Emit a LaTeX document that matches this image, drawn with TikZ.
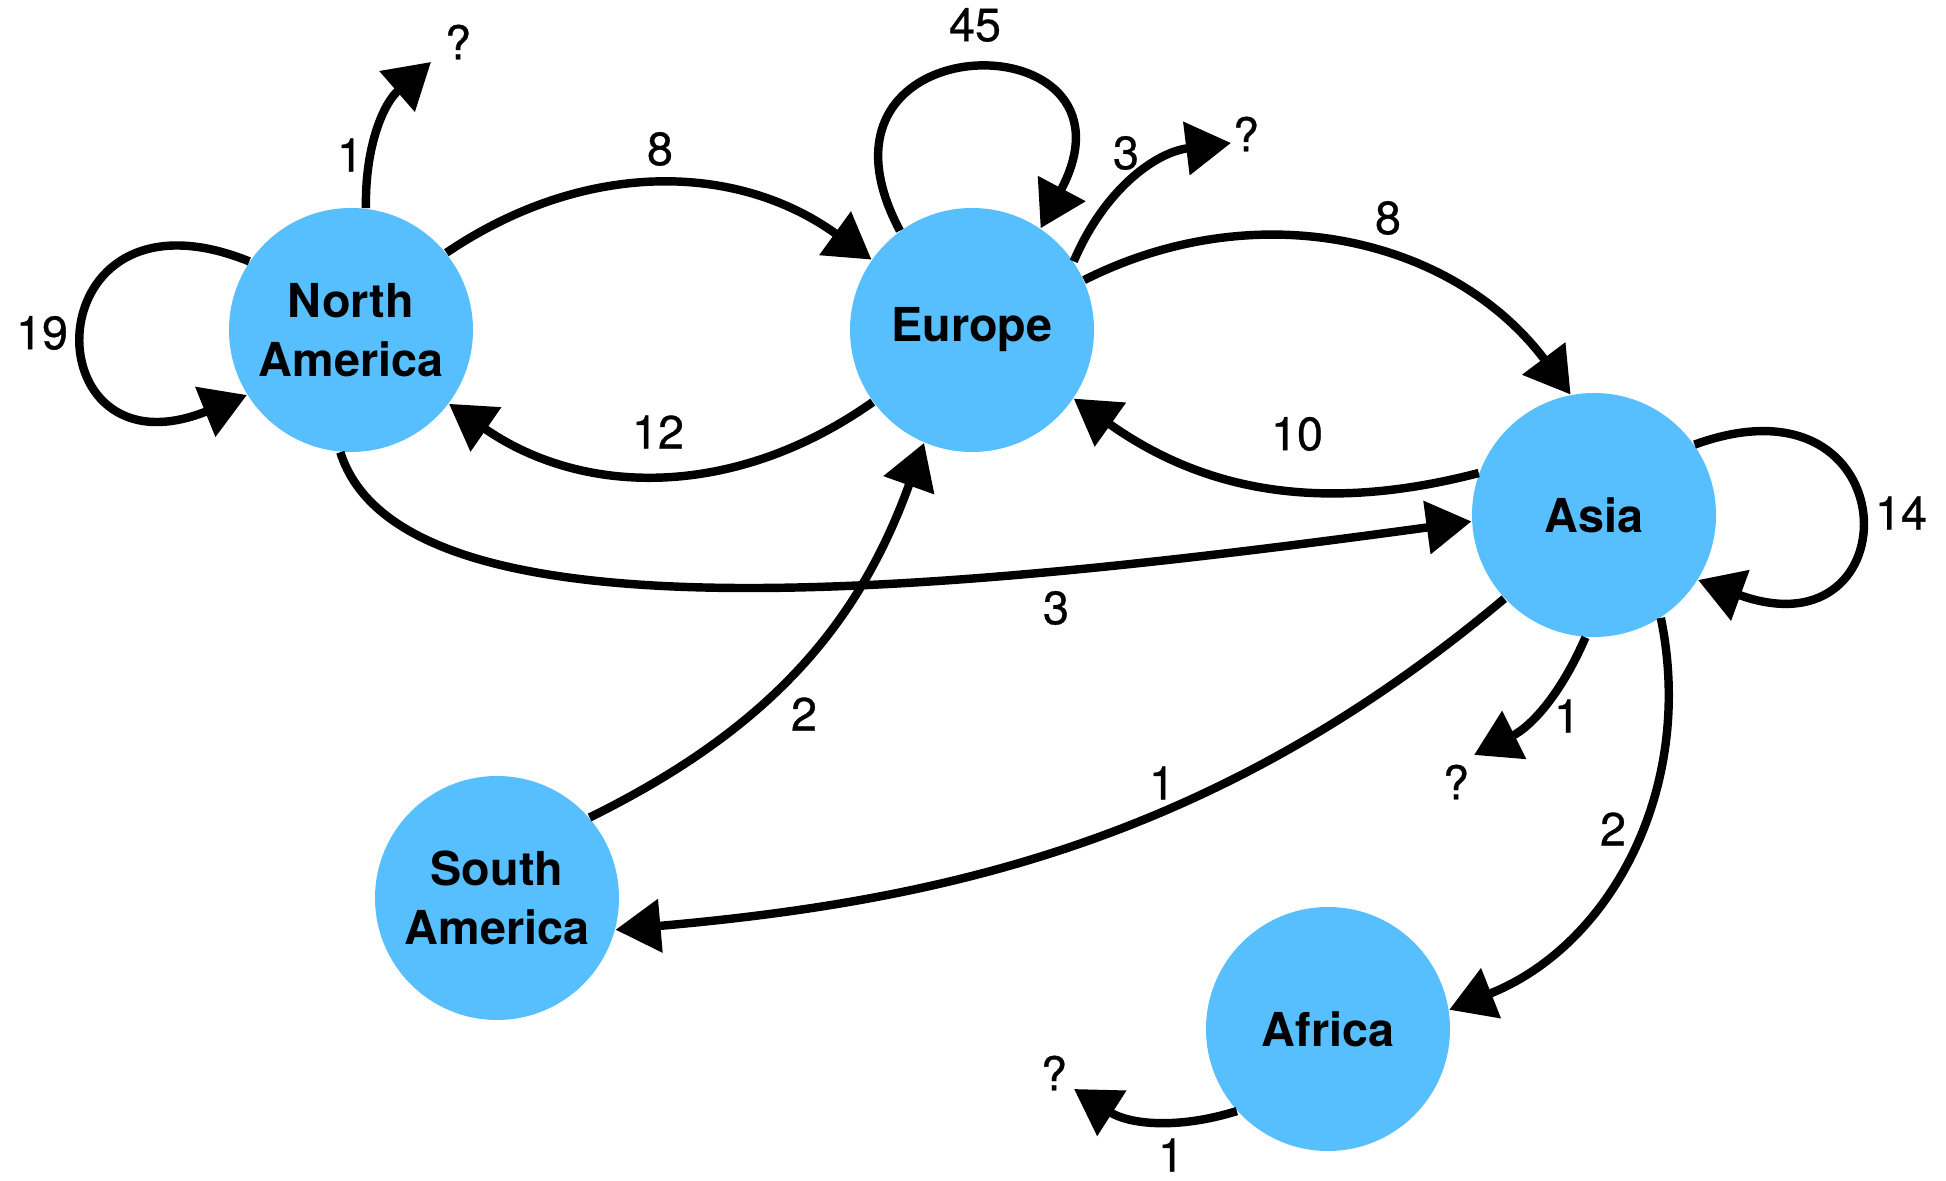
\documentclass[tikz,border=0pt]{standalone}
\usepackage{fontspec}
\setmainfont{TeX Gyre Heros}
\newfontfamily\mediumfont[FakeBold=0.6]{TeX Gyre Heros}
\usetikzlibrary{arrows.meta}
\definecolor{skyblue}{RGB}{87,191,253}

\begin{document}
\begin{tikzpicture}[x=1cm, y=1cm, >={Triangle[length=4.5mm,width=5.2mm]},
    continent/.style={circle, fill=skyblue, minimum size=2.44cm, inner sep=0pt,
      align=center, font=\fontsize{13.3}{16.8}\selectfont\bfseries},
    weight/.style={font=\fontsize{13.3}{16}\selectfont\mediumfont},
    flow/.style={->, line width=2.4pt, black}]
      \useasboundingbox (0,0) rectangle (19.46,11.81);

      % continents
      \node [continent] (na) at (3.51,8.51)  {North\\America};
      \node [continent] (eu) at (9.72,8.51)  {Europe};
      \node [continent] (as) at (15.94,6.66) {Asia};
      \node [continent] (sa) at (4.97,2.83)  {South\\America};
      \node [continent] (af) at (13.28,1.52) {Africa};

      % unknown destinations
      \node [weight] (q1) at (4.58,11.39) {?};
      \node [weight] (q2) at (12.46,10.47) {?};
      \node [weight] (q3) at (14.56,3.99) {?};
      \node [weight] (q4) at (10.54,1.08) {?};
      \coordinate (t1) at (4.31,11.19);
      \coordinate (t2) at (12.31,10.38);
      \coordinate (t3) at (14.74,4.26);
      \coordinate (t4) at (10.74,0.92);

      % North America
      \draw [flow] (na.83) to[bend left=25] (t1);
      \draw [flow] (na.146) .. controls +(158:2.35) and +(202:2.35) .. (na.212);
      \draw [flow] (na.39) to[bend left=35] (eu.145);
      \draw [flow] (na.265) .. controls +(0.6,-1.9) and +(-5.64,-0.77) .. (as.183);
      \node [weight] (w1)  at (3.50,10.26) {1};
      \node [weight] (w19) at (0.42,8.48)  {19};
      \node [weight] (w8a) at (6.60,10.32) {8};
      \node [weight] (w3a) at (10.56,5.73) {3};

      % Europe
      \draw [flow] (eu.216) to[bend left=35] (na.-37);
      \draw [flow] (eu.126) .. controls +(118:2.4) and +(62:2.4) .. (eu.56);
      \draw [flow] (eu.34) to[bend left=30] (t2);
      \draw [flow] (eu.24) to[bend left=40] (as.101);
      \node [weight] (w12) at (6.58,7.49)  {12};
      \node [weight] (w45) at (9.75,11.56) {45};
      \node [weight] (w3b) at (11.26,10.28) {3};
      \node [weight] (w8b) at (13.88,9.63) {8};

      % Asia
      \draw [flow] (as.160) to[bend left=25] (eu.-34);
      \draw [flow] (as.223) .. controls +(220:3.66) and +(5:3.43) .. (sa.-15);
      \draw [flow] (as.35) .. controls +(20:2.3) and +(-20:2.3) .. (as.-32);
      \draw [flow] (as.266) to[bend left=20] (t3);
      \draw [flow] (as.303) to[bend left=40] (af.9);
      \node [weight] (w10) at (12.97,7.47) {10};
      \node [weight] (w1b) at (11.62,3.98) {1};
      \node [weight] (w14) at (19.01,6.68) {14};
      \node [weight] (w1c) at (15.67,4.65) {1};
      \node [weight] (w2b) at (16.13,3.52) {2};

      % South America and Africa
      \draw [flow] (sa.41) to[bend right=22] (eu.247);
      \draw [flow] (af.222) to[bend left=25] (t4);
      \node [weight] (w2a) at (8.04,4.67)  {2};
      \node [weight] (w1d) at (11.71,0.26) {1};
    \end{tikzpicture}
\end{document}
